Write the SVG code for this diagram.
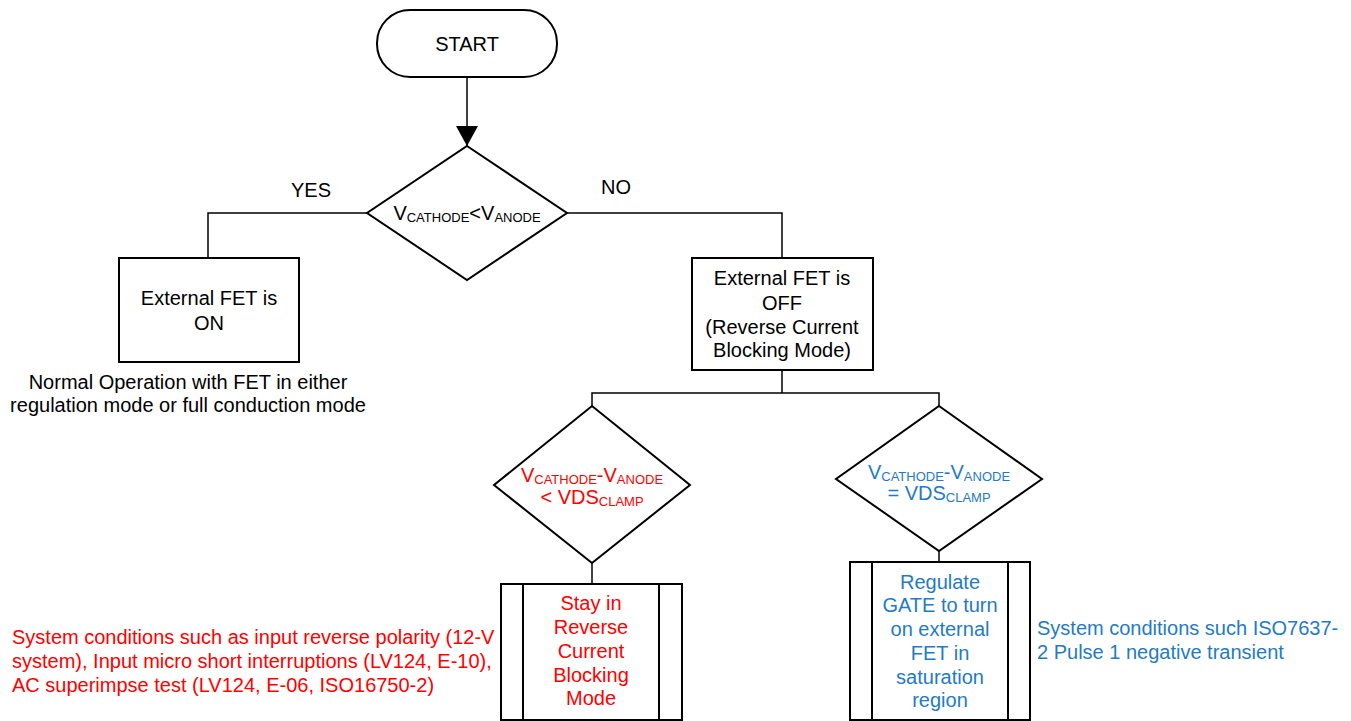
<svg xmlns="http://www.w3.org/2000/svg" width="1351" height="721" viewBox="0 0 1351 721">
<defs>
<style>
text{font-family:"Liberation Sans",Arial,sans-serif;font-size:20px;fill:#000}
.c{text-anchor:middle}
.sub{font-size:13px}
.red{fill:#FF0000}
.blue{fill:#1F7BC6}
.shape{fill:#fff;stroke:#000;stroke-width:2}
.line{fill:none;stroke:#000;stroke-width:1.5}
</style>
<marker id="arr" markerWidth="20" markerHeight="22" refX="20" refY="11" orient="auto" markerUnits="userSpaceOnUse">
<path d="M0,0 L20,11 L0,22 Z" fill="#000"/>
</marker>
</defs>
<rect width="1351" height="721" fill="#fff"/>
<g id="connectors">
<path class="line" d="M467,77 V146" marker-end="url(#arr)"/>
<path class="line" d="M367,213 H208 V258"/>
<path class="line" d="M567,213 H782 V258"/>
<path class="line" d="M782,370 V393"/>
<path class="line" d="M592,406 V393 H939 V406"/>
<path class="line" d="M592,563 V584"/>
<path class="line" d="M939,551 V562"/>
<text x="311" y="197" class="c">YES</text>
<text x="616" y="194" class="c">NO</text>
</g>
<g id="start">
<rect class="shape" x="377" y="10" width="180" height="67" rx="33" ry="33"/>
<text x="467" y="51" class="c">START</text>
</g>
<g id="decision1">
<polygon class="shape" points="467,146 567,213 467,280 367,213"/>
<text x="467" y="220" class="c">V<tspan class="sub" dy="2">CATHODE</tspan><tspan dy="-2">&lt;V</tspan><tspan class="sub" dy="2">ANODE</tspan></text>
</g>
<g id="fet-on">
<rect class="shape" x="119" y="258" width="180" height="104"/>
<text x="209" y="305" class="c">External FET is</text>
<text x="209" y="330" class="c">ON</text>
<text x="188" y="389" class="c">Normal Operation with FET in either</text>
<text x="188" y="412" class="c">regulation mode or full conduction mode</text>
</g>
<g id="fet-off">
<rect class="shape" x="692" y="258" width="181" height="112"/>
<text x="782" y="285" class="c">External FET is</text>
<text x="782" y="310" class="c">OFF</text>
<text x="782" y="334" class="c">(Reverse Current</text>
<text x="782" y="357" class="c">Blocking Mode)</text>
</g>
<g id="decision2">
<polygon class="shape" points="592,406 690,485 592,563 494,485"/>
<text x="592" y="482" class="c red">V<tspan class="sub" dy="2">CATHODE</tspan><tspan dy="-2">-V</tspan><tspan class="sub" dy="2">ANODE</tspan></text>
<text x="592" y="504" class="c red">&lt; VDS<tspan class="sub" dy="2">CLAMP</tspan></text>
</g>
<g id="decision3">
<polygon class="shape" points="939,406 1042,479 939,551 836,479"/>
<text x="939" y="479" class="c blue">V<tspan class="sub" dy="2">CATHODE</tspan><tspan dy="-2">-V</tspan><tspan class="sub" dy="2">ANODE</tspan></text>
<text x="939" y="500" class="c blue">= VDS<tspan class="sub" dy="2">CLAMP</tspan></text>
</g>
<g id="stay-blocking">
<rect class="shape" x="501" y="584" width="181" height="136"/>
<line class="line" x1="523" y1="584" x2="523" y2="720" style="stroke-width:2"/>
<line class="line" x1="659" y1="584" x2="659" y2="720" style="stroke-width:2"/>
<text x="591" y="610" class="c red">Stay in</text>
<text x="591" y="634" class="c red">Reverse</text>
<text x="591" y="658" class="c red">Current</text>
<text x="591" y="682" class="c red">Blocking</text>
<text x="591" y="705" class="c red">Mode</text>
<text x="12" y="644" class="red">System conditions such as input reverse polarity (12-V</text>
<text x="12" y="668" class="red">system), Input micro short interruptions (LV124, E-10),</text>
<text x="12" y="692" class="red">AC superimpse test (LV124, E-06, ISO16750-2)</text>
</g>
<g id="regulate-gate">
<rect class="shape" x="850" y="562" width="180" height="158"/>
<line class="line" x1="872" y1="562" x2="872" y2="720" style="stroke-width:2"/>
<line class="line" x1="1008" y1="562" x2="1008" y2="720" style="stroke-width:2"/>
<text x="940" y="589" class="c blue">Regulate</text>
<text x="940" y="612" class="c blue">GATE to turn</text>
<text x="940" y="636" class="c blue">on external</text>
<text x="940" y="660" class="c blue">FET in</text>
<text x="940" y="684" class="c blue">saturation</text>
<text x="940" y="707" class="c blue">region</text>
<text x="1037" y="635" class="blue">System conditions such ISO7637-</text>
<text x="1037" y="659" class="blue">2 Pulse 1 negative transient</text>
</g>
</svg>
